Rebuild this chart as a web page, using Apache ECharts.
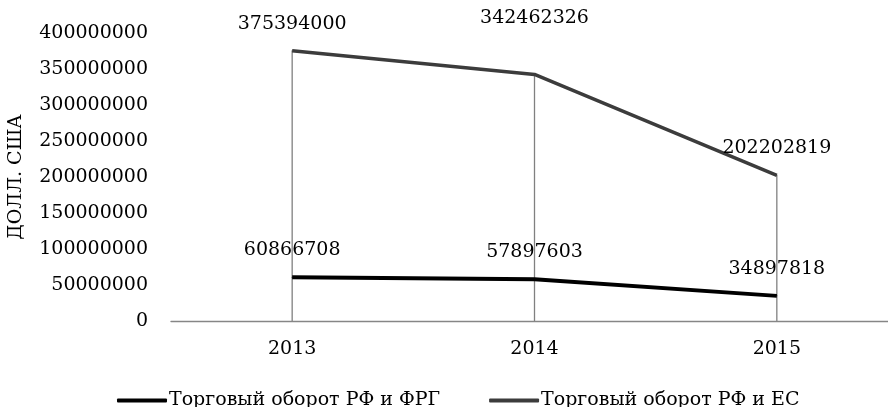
<!DOCTYPE html>
<html>
<head>
<meta charset="utf-8">
<script src="https://cdn.jsdelivr.net/npm/echarts@6/dist/echarts.min.js"></script>
<style>
  html, body { margin: 0; padding: 0; background: #fff; }
  #chart { width: 888px; height: 407px; }
</style>
</head>
<body>
<div id="chart"></div>
<script>
// годы
var years = ['2013', '2014', '2015'];
// Торговый оборот РФ и ФРГ
var tradeFRG = [60866708, 57897603, 34897818];
// Торговый оборот РФ и ЕС
var tradeEU = [375394000, 342462326, 202202819];
var seriesNames = ['Торговый оборот РФ и ФРГ', 'Торговый оборот РФ и ЕС'];
var yName = 'ДОЛЛ. США';

var serif = 'DejaVu Serif';

// подпись 2014 года у ЕС стоит выше остальных
var euOffsets = [17, 46, 17];

var myChart = echarts.init(document.getElementById('chart'));

var option = {
  backgroundColor: '#fff',
  animation: false,
  textStyle: { fontFamily: serif },
  grid: { left: 171, right: -10, top: 33, bottom: 86, outerBoundsMode: 'none', containLabel: false },
  legend: {
    data: seriesNames,
    left: 112,
    top: 386,
    itemGap: 49,
    itemWidth: 50,
    itemHeight: 4,
    icon: 'roundRect',
    textStyle: { fontFamily: serif, fontSize: 19, color: '#000', padding: [0, 0, 0, -3] }
  },
  xAxis: {
    type: 'category',
    data: years,
    axisLine: { lineStyle: { color: '#868686', width: 1.3 } },
    axisTick: { show: false },
    axisLabel: { color: '#000', fontSize: 19, fontFamily: serif, margin: 19 }
  },
  yAxis: {
    type: 'value',
    min: 0,
    max: 400000000,
    interval: 50000000,
    name: yName,
    nameLocation: 'middle',
    nameGap: 145,
    nameRotate: 90,
    nameTextStyle: { color: '#000', fontSize: 19, fontFamily: serif },
    axisLine: { show: false },
    axisTick: { show: false },
    splitLine: { show: false },
    axisLabel: {
      color: '#000', fontSize: 19, fontFamily: serif, margin: 23,
      formatter: function (v) { return String(v); }
    }
  },
  series: [
    {
      // линии проекции
      type: 'bar',
      data: tradeEU,
      barWidth: 1.3,
      itemStyle: { color: '#808080' },
      silent: true,
      z: 1
    },
    {
      name: seriesNames[0],
      type: 'line',
      data: tradeFRG,
      symbol: 'circle',
      symbolSize: 1,
      itemStyle: { color: '#000' },
      lineStyle: { color: '#000', width: 4 },
      label: { show: true, position: 'top', distance: 17, color: '#000', fontSize: 19, fontFamily: serif },
      z: 3
    },
    {
      name: seriesNames[1],
      type: 'line',
      data: tradeEU.map(function (v, i) {
        return { value: v, label: { distance: euOffsets[i] } };
      }),
      symbol: 'circle',
      symbolSize: 1,
      itemStyle: { color: '#3c3c3c' },
      lineStyle: { color: '#3c3c3c', width: 3.5 },
      label: { show: true, position: 'top', color: '#000', fontSize: 19, fontFamily: serif },
      z: 2
    }
  ]
};

myChart.setOption(option);
</script>
</body>
</html>
